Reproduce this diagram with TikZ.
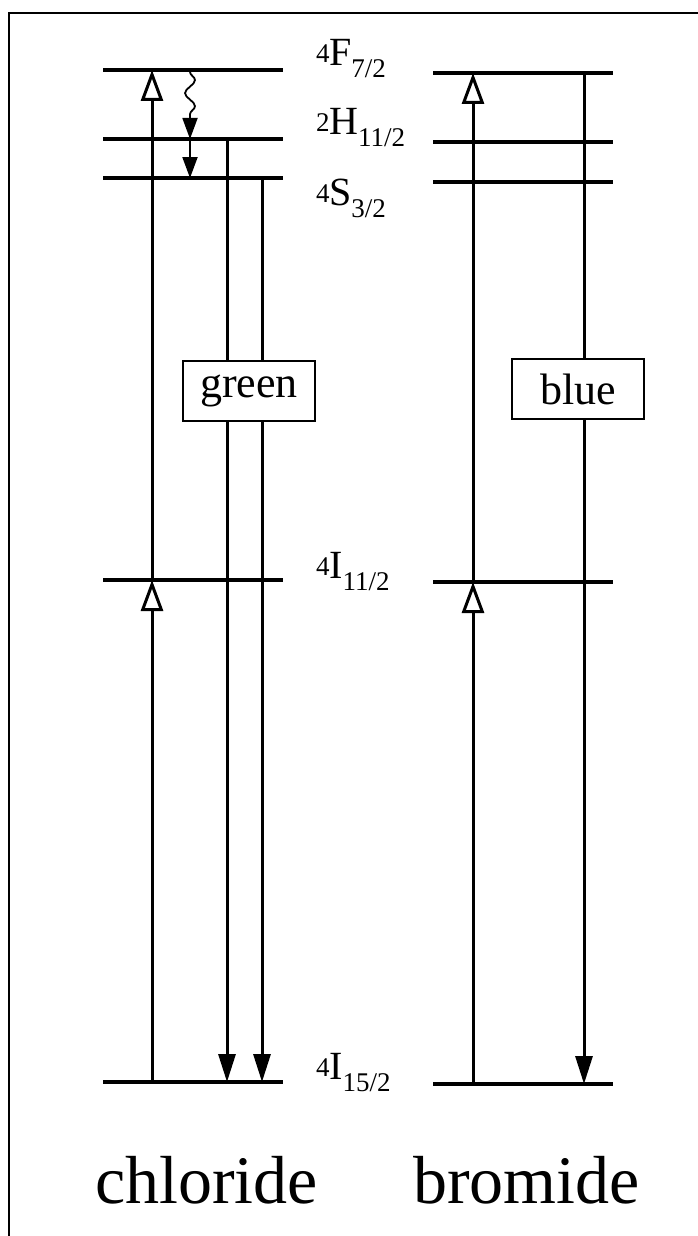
\documentclass[tikz,border=0pt]{standalone}
\usepackage{fontspec}
\setmainfont{Liberation Serif}
\usetikzlibrary{arrows.meta,decorations.pathmorphing,calc}
\newcommand\lvlab[3]{\raisebox{3pt}{\fontsize{27}{27}\selectfont #1}\kern-0.5pt{\fontsize{40}{40}\selectfont #2}\raisebox{-12pt}{\fontsize{27}{27}\selectfont #3}}
\begin{document}
\begin{tikzpicture}[x=1pt,y=-1pt,
  level/.style={line width=4pt},
  uparr/.style={line width=3pt,-{Triangle[open,length=31pt,width=22pt,line width=3pt]}},
  downarr/.style={line width=3pt,-{Triangle[length=28pt,width=17pt]}},
  smallarr/.style={line width=2pt,-{Triangle[length=21pt,width=15pt]}},
  wavy/.style={line width=1.8pt,decorate,decoration={snake,amplitude=5pt,segment length=26pt,post length=22pt}},
  lab/.style={anchor=base west,inner sep=0pt},
  colbox/.style={draw,line width=2pt,fill=white,minimum width=132pt,minimum height=60pt,inner sep=0pt,font=\fontsize{44}{44}\selectfont},
  ionname/.style={anchor=base west,inner sep=0pt,font=\fontsize{68}{68}\selectfont}]
\useasboundingbox (0,0) rectangle (698,1236);
% frame (cropped)
\coordinate (fTL) at (9,13);
\coordinate (fTR) at (698,13);
\coordinate (fBL) at (9,1236);
\draw[line width=1.5pt] (fTR) -- (fTL) -- (fBL);
% chloride levels
\coordinate (cFl) at (103,70);  \coordinate (cFr) at (283,70);
\coordinate (cHl) at (103,139); \coordinate (cHr) at (283,139);
\coordinate (cSl) at (103,178); \coordinate (cSr) at (283,178);
\coordinate (cIml) at (103,580); \coordinate (cImr) at (283,580);
\coordinate (cIgl) at (103,1082); \coordinate (cIgr) at (283,1082);
\foreach \a/\b in {cFl/cFr,cHl/cHr,cSl/cSr,cIml/cImr,cIgl/cIgr} \draw[level] (\a) -- (\b);
% bromide levels
\coordinate (bFl) at (433,73);  \coordinate (bFr) at (613,73);
\coordinate (bHl) at (433,142); \coordinate (bHr) at (613,142);
\coordinate (bSl) at (433,182); \coordinate (bSr) at (613,182);
\coordinate (bIml) at (433,582); \coordinate (bImr) at (613,582);
\coordinate (bIgl) at (433,1084); \coordinate (bIgr) at (613,1084);
\foreach \a/\b in {bFl/bFr,bHl/bHr,bSl/bSr,bIml/bImr,bIgl/bIgr} \draw[level] (\a) -- (\b);
% chloride transitions
\coordinate (cu0) at (152,1082); \coordinate (cu1) at (152,580); \coordinate (cu2) at (152,70);
\draw[uparr] (cu0) -- (cu1);
\draw[uparr] (cu1) -- (cu2);
\coordinate (w0) at (190,72); \coordinate (w1) at (190,139); \coordinate (w2) at (190,178);
\draw[wavy] (w0) -- (w1);
\draw[line width=1.8pt,-{Triangle[length=21pt,width=15pt]}] ($(w1)+(0,-21)$) -- (w1);
\draw[smallarr] (w1) -- (w2);
\coordinate (g1a) at (227,139); \coordinate (g1b) at (227,1082);
\coordinate (g2a) at (262,178); \coordinate (g2b) at (262,1082);
\draw[downarr] (g1a) -- (g1b);
\draw[downarr] (g2a) -- (g2b);
% bromide transitions
\coordinate (bu0) at (473,1084); \coordinate (bu1) at (473,582); \coordinate (bu2) at (473,73);
\draw[uparr] (bu0) -- (bu1);
\draw[uparr] (bu1) -- (bu2);
\coordinate (bl1) at (584,73); \coordinate (bl2) at (584,1084);
\draw[downarr] (bl1) -- (bl2);
% boxes
\node[colbox] (green) at (249,391) {green};
\node[colbox] (blue) at (578,389) {blue};
% level labels
\node[lab] (lF) at (316,66) {\lvlab{4}{F}{7/2}};
\node[lab] (lH) at (316,135) {\lvlab{2}{H}{11/2}};
\node[lab] (lS) at (316,205) {\lvlab{4}{S}{3/2}};
\node[lab] (lIm) at (316,578) {\lvlab{4}{I}{11/2}};
\node[lab] (lIg) at (316,1079) {\lvlab{4}{I}{15/2}};
% names
\node[ionname] (chl) at (95,1203) {chloride};
\node[ionname] (bro) at (413,1203) {bromide};
\end{tikzpicture}
\end{document}
